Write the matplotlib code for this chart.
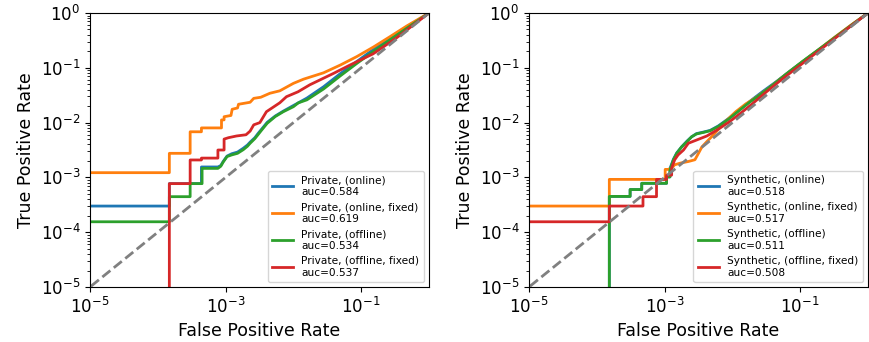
import numpy as np
import matplotlib
matplotlib.use("Agg")
import matplotlib.pyplot as plt
from matplotlib.ticker import LogLocator, NullLocator

########################################
# ROC curve points
########################################
# left panel: Private
priv_online_fpr = [1e-6, 1.48e-4, 1.48e-4, 4.4e-4, 4.4e-4, 7.7e-4, 8.5e-4, 9.2e-4, 1.05e-3, 1.23e-3,
                   1.5e-3, 1.82e-3, 2.1e-3, 2.3e-3, 2.7e-3, 3.0e-3, 3.4e-3, 4.1e-3, 5.4e-3, 7.1e-3,
                   0.01, 0.0158, 0.0278, 0.049, 0.086, 0.17, 0.37, 1.0]
priv_online_tpr = [3.0e-4, 3.0e-4, 7.7e-4, 7.7e-4, 1.55e-3, 1.55e-3, 1.65e-3, 1.95e-3, 2.45e-3, 2.7e-3,
                   2.9e-3, 3.4e-3, 3.9e-3, 4.4e-3, 5.3e-3, 6.3e-3, 7.6e-3, 0.0101, 0.0132, 0.0162,
                   0.0205, 0.028, 0.045, 0.078, 0.13, 0.24, 0.45, 1.0]

priv_online_fixed_fpr = [1e-6, 1.48e-4, 1.48e-4, 3.0e-4, 3.0e-4, 4.4e-4, 4.4e-4, 8.7e-4, 8.7e-4, 9.5e-4,
                         9.5e-4, 1.2e-3, 1.25e-3, 1.5e-3, 1.55e-3, 2.3e-3, 2.6e-3, 3.3e-3, 4.5e-3, 6.3e-3,
                         0.01, 0.0141, 0.0278, 0.049, 0.086, 0.152, 0.266, 0.47, 1.0]
priv_online_fixed_tpr = [1.22e-3, 1.22e-3, 2.75e-3, 2.75e-3, 6.8e-3, 6.8e-3, 8.0e-3, 8.0e-3, 0.0112, 0.0112,
                         0.0128, 0.0135, 0.0175, 0.0185, 0.0216, 0.0235, 0.0277, 0.029, 0.0343, 0.038,
                         0.052, 0.062, 0.081, 0.112, 0.16, 0.24, 0.37, 0.58, 1.0]

priv_offline_fpr = [1e-6, 1.48e-4, 1.48e-4, 3.0e-4, 3.0e-4, 4.5e-4, 4.5e-4, 7.7e-4, 8.5e-4, 9.2e-4,
                    1.05e-3, 1.23e-3, 1.5e-3, 1.82e-3, 2.1e-3, 2.3e-3, 2.7e-3, 3.0e-3, 3.4e-3, 4.1e-3,
                    5.4e-3, 7.1e-3, 0.01, 0.0118, 0.0158, 0.0278, 0.049, 0.086, 0.17, 0.37, 1.0]
priv_offline_tpr = [1.55e-4, 1.55e-4, 4.45e-4, 4.45e-4, 7.7e-4, 7.7e-4, 1.46e-3, 1.46e-3, 1.6e-3, 1.9e-3,
                    2.4e-3, 2.57e-3, 2.75e-3, 3.2e-3, 3.7e-3, 4.2e-3, 5.1e-3, 6.0e-3, 7.3e-3, 9.7e-3,
                    0.0129, 0.0158, 0.0195, 0.0229, 0.026, 0.041, 0.071, 0.12, 0.22, 0.43, 1.0]

priv_offline_fixed_fpr = [1.48e-4, 1.48e-4, 3.0e-4, 3.0e-4, 4.4e-4, 4.4e-4, 7.7e-4, 7.7e-4, 9.5e-4, 9.5e-4,
                          1.1e-3, 1.45e-3, 2.0e-3, 2.3e-3, 2.6e-3, 3.2e-3, 4.0e-3, 5.0e-3, 6.3e-3, 7.9e-3,
                          0.0117, 0.0175, 0.039, 0.068, 0.15, 0.33, 1.0]
priv_offline_fixed_tpr = [1e-6, 7.7e-4, 7.7e-4, 2.08e-3, 2.08e-3, 2.25e-3, 2.25e-3, 3.16e-3, 3.16e-3, 5.0e-3,
                          5.3e-3, 5.7e-3, 6.0e-3, 7.0e-3, 9.1e-3, 0.01, 0.0158, 0.019, 0.023, 0.0297,
                          0.0365, 0.049, 0.079, 0.112, 0.18, 0.35, 1.0]

# right panel: Synthetic
syn_online_fpr = [1.53e-4, 1.53e-4, 3.1e-4, 3.1e-4, 4.6e-4, 4.6e-4, 1.07e-3, 1.07e-3, 1.2e-3, 1.2e-3,
                  1.35e-3, 1.51e-3, 1.78e-3, 2.14e-3, 2.5e-3, 2.95e-3, 3.7e-3, 4.7e-3, 6.2e-3, 8.9e-3,
                  0.0126, 0.02, 0.0282, 0.0447, 0.0708, 0.126, 0.224, 0.398, 0.708, 1.0]
syn_online_tpr = [1e-6, 4.5e-4, 4.5e-4, 6.0e-4, 6.0e-4, 7.8e-4, 7.8e-4, 1.02e-3, 1.02e-3, 1.45e-3,
                  2.15e-3, 2.8e-3, 3.6e-3, 4.6e-3, 5.5e-3, 6.3e-3, 6.7e-3, 7.2e-3, 8.7e-3, 0.012,
                  0.017, 0.0269, 0.0372, 0.0562, 0.087, 0.148, 0.251, 0.427, 0.724, 1.0]

syn_online_fixed_fpr = [1e-6, 1.53e-4, 1.53e-4, 1.02e-3, 1.02e-3, 1.13e-3, 1.27e-3, 1.41e-3, 1.7e-3, 2.24e-3,
                        2.8e-3, 3.16e-3, 3.55e-3, 4.2e-3, 5.2e-3, 7.9e-3, 0.0112, 0.0158, 0.0224, 0.0355,
                        0.056, 0.1, 0.178, 0.316, 0.562, 1.0]
syn_online_fixed_tpr = [3.0e-4, 3.0e-4, 9.2e-4, 9.2e-4, 1.4e-3, 1.4e-3, 1.48e-3, 1.7e-3, 1.82e-3, 1.95e-3,
                        2.1e-3, 2.75e-3, 3.6e-3, 4.5e-3, 5.9e-3, 0.0105, 0.0158, 0.022, 0.0288, 0.0437,
                        0.069, 0.12, 0.204, 0.355, 0.603, 1.0]

syn_offline_fpr = [1.53e-4, 1.53e-4, 3.1e-4, 3.1e-4, 4.6e-4, 4.6e-4, 1.07e-3, 1.07e-3, 1.2e-3, 1.2e-3,
                   1.35e-3, 1.51e-3, 1.78e-3, 2.14e-3, 2.5e-3, 2.95e-3, 3.7e-3, 4.7e-3, 6.2e-3, 8.9e-3,
                   0.0126, 0.0178, 0.0251, 0.0398, 0.063, 0.112, 0.2, 0.355, 0.631, 1.0]
syn_offline_tpr = [1e-6, 4.5e-4, 4.5e-4, 6.0e-4, 6.0e-4, 7.8e-4, 7.8e-4, 1.02e-3, 1.02e-3, 1.36e-3,
                   2.1e-3, 2.75e-3, 3.6e-3, 4.5e-3, 5.5e-3, 6.2e-3, 6.6e-3, 7.1e-3, 8.5e-3, 0.0117,
                   0.0166, 0.0234, 0.0316, 0.049, 0.078, 0.135, 0.229, 0.389, 0.661, 1.0]

syn_offline_fixed_fpr = [1e-6, 1.53e-4, 1.53e-4, 4.8e-4, 4.8e-4, 7.6e-4, 7.6e-4, 1.07e-3, 1.07e-3, 1.27e-3,
                         1.27e-3, 1.41e-3, 1.58e-3, 1.9e-3, 2.24e-3, 2.95e-3, 4.2e-3, 5.9e-3, 8.9e-3, 0.0141,
                         0.02, 0.0316, 0.05, 0.079, 0.141, 0.251, 0.447, 1.0]
syn_offline_fixed_tpr = [1.55e-4, 1.55e-4, 3.0e-4, 3.0e-4, 4.45e-4, 4.45e-4, 9.2e-4, 9.2e-4, 1.1e-3, 1.1e-3,
                         1.48e-3, 2.1e-3, 2.57e-3, 3.16e-3, 4.2e-3, 4.8e-3, 5.7e-3, 7.3e-3, 0.0102, 0.0158,
                         0.0224, 0.0363, 0.0575, 0.089, 0.155, 0.269, 0.468, 1.0]

priv_labels = ["Private, (online)\nauc=0.584", "Private, (online, fixed)\nauc=0.619",
               "Private, (offline)\nauc=0.534", "Private, (offline, fixed)\nauc=0.537"]
syn_labels = ["Synthetic, (online)\nauc=0.518", "Synthetic, (online, fixed)\nauc=0.517",
              "Synthetic, (offline)\nauc=0.511", "Synthetic, (offline, fixed)\nauc=0.508"]

colors = ["#1f77b4", "#ff7f0e", "#2ca02c", "#d62728"]

panels = [
    ([(priv_online_fpr, priv_online_tpr), (priv_online_fixed_fpr, priv_online_fixed_tpr),
      (priv_offline_fpr, priv_offline_tpr), (priv_offline_fixed_fpr, priv_offline_fixed_tpr)], priv_labels),
    ([(syn_online_fpr, syn_online_tpr), (syn_online_fixed_fpr, syn_online_fixed_tpr),
      (syn_offline_fpr, syn_offline_tpr), (syn_offline_fixed_fpr, syn_offline_fixed_tpr)], syn_labels),
]

########################################
# Plot
########################################
fig = plt.figure(figsize=(8.69, 3.42), dpi=100)
ax_pos = [[90 / 869, 55 / 342, 339 / 869, 274 / 342],
          [529 / 869, 55 / 342, 339 / 869, 274 / 342]]

for pos, (curves, labels) in zip(ax_pos, panels):
    ax = fig.add_axes(pos)
    for (fpr, tpr), lab, c in zip(curves, labels, colors):
        ax.plot(fpr, tpr, color=c, lw=2, label=lab)
    ax.plot([1e-6, 1], [1e-6, 1], "--", color="grey", lw=2)
    ax.set_xscale("log")
    ax.set_yscale("log")
    ax.set_xlim(1e-5, 1)
    ax.set_ylim(1e-5, 1)
    ax.xaxis.set_major_locator(LogLocator(base=10, subs=[1.0], numticks=3))
    ax.set_xticks([1e-5, 1e-3, 1e-1])
    ax.xaxis.set_minor_locator(NullLocator())
    ax.yaxis.set_major_locator(LogLocator(base=10, numticks=10))
    ax.yaxis.set_minor_locator(LogLocator(base=10, subs=np.arange(2, 10), numticks=20))
    ax.tick_params(labelsize=12)
    ax.set_xlabel("False Positive Rate", fontsize=12.5)
    ax.set_ylabel("True Positive Rate", fontsize=12.5)
    ax.legend(loc="lower right", fontsize=7.6)

fig.savefig("out.png", dpi=100)
